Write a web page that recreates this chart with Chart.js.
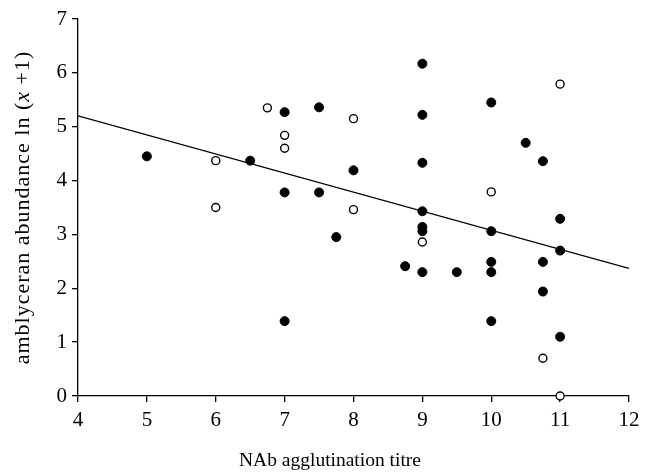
<!DOCTYPE html>
<html>
<head>
<meta charset="utf-8">
<script src="https://cdn.jsdelivr.net/npm/chart.js@4"></script>
<style>
  html, body { margin: 0; padding: 0; background: #fff; }
  #wrap { width: 653px; height: 474px; }
</style>
</head>
<body>
<div id="wrap"><canvas id="chart" width="653" height="474"></canvas></div>
<script>
// filled circles
const filledX = [5, 6.5, 7, 7, 7, 7.5, 7.5, 7.75, 8, 8.75, 9, 9, 9, 9, 9, 9, 9, 9.5, 10, 10, 10, 10, 10, 10.5, 10.75, 10.75, 10.75, 11, 11, 11];
const filledY = [4.45, 4.37, 5.27, 3.78, 1.39, 5.36, 3.78, 2.95, 4.19, 2.41, 6.17, 5.22, 4.33, 3.43, 3.14, 3.06, 2.30, 2.30, 5.45, 3.06, 2.49, 2.30, 1.39, 4.70, 4.36, 2.49, 1.94, 3.29, 2.70, 1.10];
// open circles
const openX = [6, 6, 6.75, 7, 7, 8, 8, 9, 10, 10.75, 11, 11];
const openY = [4.37, 3.50, 5.35, 4.84, 4.60, 5.15, 3.46, 2.86, 3.79, 0.70, 5.79, 0];
// fitted line
const fitX = [4, 12];
const fitY = [5.20, 2.37];

const xTicks = [4, 5, 6, 7, 8, 9, 10, 11, 12];
const yTicks = [0, 1, 2, 3, 4, 5, 6, 7];

const toPts = (xs, ys) => xs.map((x, i) => ({ x: x, y: ys[i] }));
const serif = 'Liberation Serif, Times New Roman, serif';

// axis titles (y one has an italic x)
const axisTitles = {
    id: 'axisTitles',
    afterDraw(chart) {
        const ctx = chart.ctx;
        ctx.save();
        ctx.fillStyle = '#000';
        ctx.textBaseline = 'alphabetic';

        // x title
        ctx.font = '19.5px ' + serif;
        ctx.textAlign = 'center';
        ctx.fillText('NAb agglutination titre', 330, 466);

        // y title
        const parts = [
            ['amblyceran abundance ln (', 'normal'],
            ['x', 'italic'],
            [' +1)', 'normal']
        ];
        ctx.textAlign = 'left';
        ctx.letterSpacing = '1px';
        let total = 0;
        parts.forEach(p => {
            ctx.font = p[1] + ' 22px ' + serif;
            total += ctx.measureText(p[0]).width;
        });
        ctx.translate(29, 207.5);
        ctx.rotate(-Math.PI / 2);
        let pos = -total / 2;
        parts.forEach(p => {
            ctx.font = p[1] + ' 22px ' + serif;
            ctx.fillText(p[0], pos, 0);
            pos += ctx.measureText(p[0]).width;
        });
        ctx.restore();
    }
};

new Chart(document.getElementById('chart'), {
    type: 'scatter',
    data: {
        datasets: [
            {
                label: 'fit',
                type: 'line',
                data: toPts(fitX, fitY),
                borderColor: '#000',
                borderWidth: 1.3,
                pointRadius: 0,
                fill: false
            },
            {
                label: 'filled',
                data: toPts(filledX, filledY),
                backgroundColor: '#000',
                borderColor: '#000',
                borderWidth: 1,
                pointRadius: 4.5,
                clip: false
            },
            {
                label: 'open',
                data: toPts(openX, openY),
                backgroundColor: '#fff',
                borderColor: '#000',
                borderWidth: 1.4,
                pointRadius: 4,
                clip: false
            }
        ]
    },
    options: {
        responsive: false,
        animation: false,
        layout: { padding: { left: 0, right: 24, top: 19, bottom: 0 } },
        plugins: {
            legend: { display: false },
            tooltip: { enabled: false }
        },
        scales: {
            x: {
                type: 'linear',
                min: 4,
                max: 12,
                afterBuildTicks: s => { s.ticks = xTicks.map(v => ({ value: v })); },
                afterFit: s => { s.height = 78; },
                border: { color: '#000', width: 1.3 },
                grid: { display: true, drawOnChartArea: false, drawTicks: true, tickLength: 6, color: '#000', lineWidth: 1.3 },
                ticks: { color: '#000', font: { family: serif, size: 21 }, padding: 6 }
            },
            y: {
                type: 'linear',
                min: 0,
                max: 7,
                afterBuildTicks: s => { s.ticks = yTicks.map(v => ({ value: v })); },
                afterFit: s => { s.width = 78; },
                border: { color: '#000', width: 1.3 },
                grid: { display: true, drawOnChartArea: false, drawTicks: true, tickLength: 6, color: '#000', lineWidth: 1.3 },
                ticks: { color: '#000', font: { family: serif, size: 21 }, padding: 5 }
            }
        }
    },
    plugins: [axisTitles]
});
</script>
</body>
</html>
